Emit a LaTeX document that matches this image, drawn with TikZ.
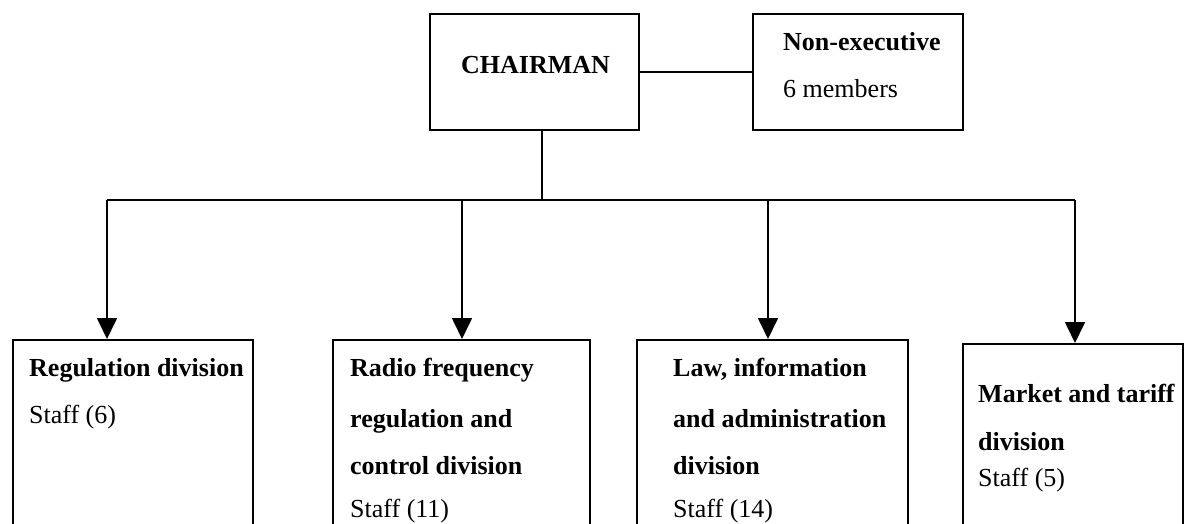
\documentclass[tikz,border=0pt]{standalone}
\usepackage{fontspec}
\setmainfont{Liberation Serif}
\usetikzlibrary{arrows.meta}
\tikzset{
  x=1pt, y=-1pt,
  unit/.style={draw=black, line width=1.7pt, rectangle, inner sep=0pt},
  lbl/.style={anchor=base west, inner sep=0pt, font=\fontsize{26}{30}\selectfont},
  hd/.style={lbl, font=\fontsize{26}{30}\selectfont\bfseries},
  link/.style={draw=black, line width=1.7pt},
  drop/.style={link, -{Triangle[length=21pt,width=20pt]}}
}
\begin{document}
\begin{tikzpicture}
\useasboundingbox (0,0) rectangle (1195,523);
\clip (0,0) rectangle (1195,523);

% top level
\node[unit, anchor=north west, minimum width=209pt, minimum height=116pt] (chair) at (429,13) {};
\node[unit, anchor=north west, minimum width=210pt, minimum height=116pt] (board) at (752,13) {};
\node[hd] (chairT) at (461,73) {CHAIRMAN};
\node[hd] (boardT) at (783,50) {Non-executive};
\node[lbl] (boardN) at (783,97) {6 members};

% divisions (they run past the lower edge)
\node[unit, anchor=north west, minimum width=240pt, minimum height=210pt] (d1) at (12,339) {};
\node[unit, anchor=north west, minimum width=257pt, minimum height=210pt] (d2) at (332,339) {};
\node[unit, anchor=north west, minimum width=271pt, minimum height=210pt] (d3) at (636,339) {};
\node[unit, anchor=north west, minimum width=220pt, minimum height=210pt] (d4) at (962,343) {};

\node[hd]  (d1a) at (29,376) {Regulation division};
\node[lbl] (d1b) at (29,423) {Staff (6)};

\node[hd]  (d2a) at (350,376) {Radio frequency};
\node[hd]  (d2b) at (350,427) {regulation and};
\node[hd]  (d2c) at (350,474) {control division};
\node[lbl] (d2d) at (350,517) {Staff (11)};

\node[hd]  (d3a) at (673,376) {Law, information};
\node[hd]  (d3b) at (673,427) {and administration};
\node[hd]  (d3c) at (673,474) {division};
\node[lbl] (d3d) at (673,517) {Staff (14)};

\node[hd]  (d4a) at (978,402) {Market and tariff};
\node[hd]  (d4b) at (978,450) {division};
\node[lbl] (d4c) at (978,486) {Staff (5)};

% connectors
\coordinate (hub) at (542,200);
\coordinate (bar1) at (107,200);
\coordinate (bar2) at (462,200);
\coordinate (bar3) at (768,200);
\coordinate (bar4) at (1075,200);

\draw[link] (chair.east) -- (board.west);
\draw[link] (hub |- chair.south) -- (hub);
\draw[link] (bar1) -- (bar4);
\draw[drop] (bar1) -- (bar1 |- d1.north);
\draw[drop] (bar2) -- (bar2 |- d2.north);
\draw[drop] (bar3) -- (bar3 |- d3.north);
\draw[drop] (bar4) -- (bar4 |- d4.north);
\end{tikzpicture}
\end{document}
